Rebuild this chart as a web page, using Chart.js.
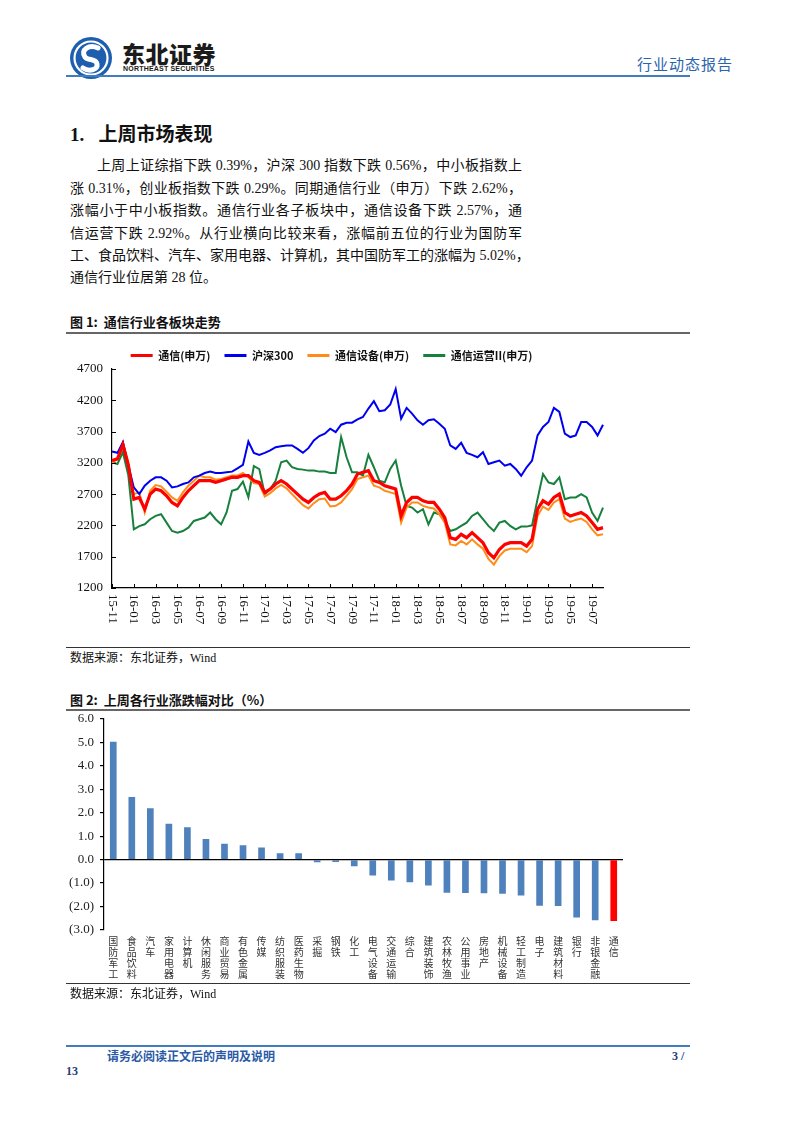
<!DOCTYPE html>
<html><head><meta charset="utf-8">
<script src="https://cdn.jsdelivr.net/npm/chart.js@4.4.1/dist/chart.umd.min.js"></script>
<style>
html,body{margin:0;padding:0;background:#fff;}
body{width:802px;height:1133px;position:relative;overflow:hidden;font-family:"Liberation Serif","Noto Sans CJK SC",serif;color:#111;}
.abs{position:absolute;}
.hl{position:absolute;height:0;}
.para div{position:absolute;left:70px;width:452px;height:22px;line-height:22px;font-size:14px;text-align:justify;text-align-last:justify;white-space:nowrap;}
.fig{position:absolute;left:70px;font-family:"Noto Sans CJK SC";font-weight:700;font-size:13px;line-height:16px;}
.src{position:absolute;left:70px;font-size:12px;line-height:14px;font-family:"Liberation Serif","Noto Sans CJK SC";}
</style></head>
<body>
<!-- header -->
<svg class="abs" style="left:69px;top:36px" width="44" height="44" viewBox="0 0 44 44">
  <circle cx="22" cy="22" r="21" fill="#1d5fae"/>
  <circle cx="22" cy="22" r="16.5" fill="none" stroke="#fff" stroke-width="2.2"/>
  <path d="M29 12 C20 8 11 14 16 21 C19 25 27 22 28 28 C29 34 20 36 14 32" fill="none" stroke="#fff" stroke-width="5" stroke-linecap="round"/>
</svg>
<div class="abs" style="left:122px;top:40px;font-family:'Noto Sans CJK SC';font-weight:900;font-size:23px;line-height:26px;color:#1b1b1b;letter-spacing:0.5px">东北证券</div>
<div class="abs" style="left:123px;top:65px;font-family:'Liberation Sans';font-weight:700;font-size:7px;line-height:8px;color:#1b1b1b;letter-spacing:0.2px">NORTHEAST SECURITIES</div>
<div class="abs" style="left:637px;top:54px;font-family:'Noto Sans CJK SC';font-size:15px;line-height:20px;color:#2a64ad;letter-spacing:1px">行业动态报告</div>
<div class="hl" style="left:66px;top:75px;width:624px;border-top:2px solid #3f7cc0"></div>

<div class="abs" style="left:70px;top:123px;font-family:'Liberation Serif','Noto Sans CJK SC';font-weight:700;font-size:19px;line-height:24px">1.&nbsp;&nbsp;&nbsp;上周市场表现</div>
<div class="para">
<div style="top:155px;left:97px;width:425px">上周上证综指下跌 0.39%，沪深 300 指数下跌 0.56%，中小板指数上</div>
<div style="top:178px">涨 0.31%，创业板指数下跌 0.29%。同期通信行业（申万）下跌 2.62%，</div>
<div style="top:200px">涨幅小于中小板指数。通信行业各子板块中，通信设备下跌 2.57%，通</div>
<div style="top:223px">信运营下跌 2.92%。从行业横向比较来看，涨幅前五位的行业为国防军</div>
<div style="top:245px">工、食品饮料、汽车、家用电器、计算机，其中国防军工的涨幅为 5.02%，</div>
<div style="top:267px;text-align-last:left">通信行业位居第 28 位。</div>
</div>

<div class="fig" style="top:314px">图 1:&nbsp;&nbsp;通信行业各板块走势</div>
<div class="hl" style="left:66px;top:332px;width:624px;border-top:2px solid #666"></div>
<canvas id="c1" class="abs" style="left:60px;top:336px" width="570" height="308"></canvas>
<div class="hl" style="left:66px;top:647px;width:624px;border-top:1px solid #333"></div>
<div class="src" style="top:651px">数据来源：东北证券，Wind</div>

<div class="fig" style="top:692px">图 2:&nbsp;&nbsp;上周各行业涨跌幅对比（%）</div>
<div class="hl" style="left:66px;top:709px;width:624px;border-top:2px solid #666"></div>
<canvas id="c2" class="abs" style="left:60px;top:705px" width="570" height="280"></canvas>
<div class="hl" style="left:66px;top:983px;width:624px;border-top:1px solid #333"></div>
<div class="src" style="top:987px">数据来源：东北证券，Wind</div>

<!-- footer -->
<div class="hl" style="left:66px;top:1045px;width:624px;border-top:2px solid #3f7cc0"></div>
<div class="abs" style="left:107px;top:1048px;font-family:'Noto Sans CJK SC';font-weight:700;font-size:12px;line-height:16px;color:#2a5aa6">请务必阅读正文后的声明及说明</div>
<div class="abs" style="left:672px;top:1048px;font-weight:700;font-size:12px;line-height:16px;color:#1f3d78">3 /</div>
<div class="abs" style="left:66px;top:1063px;font-weight:700;font-size:12px;line-height:16px;color:#1f3d78">13</div>

<script>
// ---------- Figure 1 data (half-monthly readings) ----------
const dates = ['15-11-01','15-11-16','15-12-01','15-12-16',
'16-01-01','16-01-16','16-02-01','16-02-16','16-03-01','16-03-16','16-04-01','16-04-16','16-05-01','16-05-16','16-06-01','16-06-16',
'16-07-01','16-07-16','16-08-01','16-08-16','16-09-01','16-09-16','16-10-01','16-10-16','16-11-01','16-11-16','16-12-01','16-12-16',
'17-01-01','17-01-16','17-02-01','17-02-16','17-03-01','17-03-16','17-04-01','17-04-16','17-05-01','17-05-16','17-06-01','17-06-16',
'17-07-01','17-07-16','17-08-01','17-08-16','17-09-01','17-09-16','17-10-01','17-10-16','17-11-01','17-11-16','17-12-01','17-12-16',
'18-01-01','18-01-16','18-02-01','18-02-16','18-03-01','18-03-16','18-04-01','18-04-16','18-05-01','18-05-16','18-06-01','18-06-16',
'18-07-01','18-07-16','18-08-01','18-08-16','18-09-01','18-09-16','18-10-01','18-10-16','18-11-01','18-11-16','18-12-01','18-12-16',
'19-01-01','19-01-16','19-02-01','19-02-16','19-03-01','19-03-16','19-04-01','19-04-16','19-05-01','19-05-16','19-06-01','19-06-16',
'19-07-01','19-07-16','19-08-01'];
const xTickLabels = ['15-11','16-01','16-03','16-05','16-07','16-09','16-11','17-01','17-03','17-05','17-07','17-09','17-11',
'18-01','18-03','18-05','18-07','18-09','18-11','19-01','19-03','19-05','19-07'];
const yTicks1 = [1200,1700,2200,2700,3200,3700,4200,4700];

const telecomSW = [3237,3264,3489,3156,2620,2647,2460,2701,2781,2754,2674,2567,2513,2647,2754,2835,
2915,2915,2915,2888,2915,2942,2969,2969,2996,2996,2915,2888,2728,2781,2862,2915,2862,2781,2701,2620,
2567,2647,2701,2728,2620,2620,2674,2754,2862,3022,3049,3076,2915,2888,2835,2808,2781,2352,2567,2647,
2647,2594,2567,2567,2460,2326,2004,1977,2058,2004,2084,2004,1924,1763,1682,1816,1897,1924,1924,1924,
1870,1977,2460,2594,2540,2647,2701,2406,2352,2379,2406,2352,2245,2138,2165];
const hs300 = [3381,3360,3531,3156,2808,2701,2835,2915,2969,2969,2915,2808,2824,2862,2888,2969,
2995,3038,3060,3038,3038,3049,3060,3113,3167,3540,3360,3328,3360,3398,3451,3467,3478,3478,3424,3360,
3435,3558,3628,3666,3746,3692,3810,3842,3842,3896,3934,4068,4185,4025,4041,4132,4378,3907,4078,3987,
3880,3810,3880,3896,3826,3746,3478,3424,3521,3360,3328,3290,3371,3183,3210,3237,3156,3183,3103,2995,
3129,3237,3639,3773,3853,4078,4014,3666,3612,3639,3853,3853,3773,3639,3810];
const telecomEquip = [3199,3264,3521,3210,2701,2728,2406,2754,2846,2824,2738,2647,2594,2728,2835,2915,
2996,2969,2969,2931,2942,2969,2996,2996,3038,2969,2878,2862,2663,2717,2792,2846,2792,2701,2610,2524,
2470,2556,2620,2631,2502,2513,2567,2674,2781,2942,2969,2996,2835,2808,2754,2728,2701,2245,2486,2567,
2567,2513,2486,2470,2379,2245,1897,1881,1951,1897,1977,1897,1827,1666,1575,1709,1800,1827,1827,1827,
1773,1870,2352,2502,2449,2567,2620,2309,2256,2288,2309,2256,2138,2042,2058];
const telecomOper = [3210,3183,3371,2996,2138,2190,2218,2299,2352,2379,2245,2111,2084,2111,2165,2272,
2299,2326,2406,2299,2218,2406,2754,2781,2900,2650,3150,3100,2700,2781,2915,3210,3237,3130,3103,3092,
3076,3076,3060,3060,3038,3038,3612,3290,3049,3049,2996,3328,3130,2915,2888,3103,3237,2835,2513,2486,
2406,2460,2218,2406,2379,2272,2111,2138,2192,2245,2352,2406,2299,2192,2111,2245,2272,2192,2138,2181,
2181,2202,2620,3022,2888,2862,2969,2620,2647,2647,2701,2647,2406,2272,2486];

// ---------- Figure 2 data ----------
const industries = ['国防军工','食品饮料','汽车','家用电器','计算机','休闲服务','商业贸易','有色金属','传媒','纺织服装',
'医药生物','采掘','钢铁','化工','电气设备','交通运输','综合','建筑装饰','农林牧渔','公用事业','房地产','机械设备',
'轻工制造','电子','建筑材料','银行','非银金融','通信'];
const weeklyChange = [5.02,2.67,2.19,1.53,1.38,0.88,0.68,0.61,0.52,0.27,0.27,-0.11,-0.10,-0.28,-0.68,-0.89,-0.96,
-1.10,-1.41,-1.42,-1.43,-1.45,-1.53,-1.97,-1.98,-2.47,-2.58,-2.62];
const yTicks2 = [-3,-2,-1,0,1,2,3,4,5,6];

function tickLabelOf(d){ const ym = d.slice(0,5); return (d.endsWith('-01') && xTickLabels.includes(ym)) ? ym : null; }

const axisDeco = {
  id:'axisDeco',
  afterDraw(chart){
    const ctx = chart.ctx, x = chart.scales.x, y = chart.scales.y;
    ctx.save();
    ctx.strokeStyle = '#000'; ctx.lineWidth = 1;
    ctx.beginPath();
    dates.forEach((d,i)=>{ if(tickLabelOf(d)){ const px = Math.round(x.getPixelForValue(i))+0.5; ctx.moveTo(px, x.top); ctx.lineTo(px, x.top-4); }});
    y.ticks.forEach(t=>{ const py = Math.round(y.getPixelForValue(t.value))+0.5; ctx.moveTo(y.right, py); ctx.lineTo(y.right+4, py); });
    ctx.stroke();
    ctx.fillStyle = '#111'; ctx.font = '13px "Liberation Serif"'; ctx.textAlign = 'left'; ctx.textBaseline = 'middle';
    dates.forEach((d,i)=>{ const lab = tickLabelOf(d); if(lab){ const px = x.getPixelForValue(i); ctx.save(); ctx.translate(px, x.top+6); ctx.rotate(Math.PI/2); ctx.fillText(lab,0,0); ctx.restore(); }});
    ctx.restore();
  }
};
const legendHeight = { id:'legendHeight', beforeInit(chart){ const lg = chart.legend; if(!lg) return; const f = lg.fit; lg.fit = function(){ f.call(this); this.height = 33; }; } };

new Chart(document.getElementById('c1'), {
  type:'line',
  data:{ labels: dates, datasets:[
    {label:'通信(申万)', data: telecomSW, borderColor:'#ff0000', backgroundColor:'#ff0000', borderWidth:3.2},
    {label:'沪深300', data: hs300, borderColor:'#0000f0', backgroundColor:'#0000f0', borderWidth:2},
    {label:'通信设备(申万)', data: telecomEquip, borderColor:'#ff8c1a', backgroundColor:'#ff8c1a', borderWidth:2},
    {label:'通信运营II(申万)', data: telecomOper, borderColor:'#17803d', backgroundColor:'#17803d', borderWidth:2}
  ]},
  options:{
    responsive:false, animation:false, devicePixelRatio:1,
    elements:{ point:{radius:0}, line:{tension:0} },
    layout:{ padding:{ top:0, right:27, left:0, bottom:0 } },
    plugins:{
      tooltip:{enabled:false},
      legend:{ display:true, position:'top', align:'center',
        labels:{ boxWidth:22, boxHeight:3, padding:14, color:'#111',
          font:{ family:'"Noto Sans CJK SC"', size:11, weight:'bold' },
          generateLabels(chart){ return Chart.defaults.plugins.legend.labels.generateLabels(chart).map(l=>Object.assign(l,{lineWidth:0, fillStyle:l.strokeStyle})); } } }
    },
    scales:{
      x:{ type:'category', grid:{display:false, drawTicks:false}, border:{display:true, color:'#000', width:1.2}, ticks:{display:false},
          afterFit(s){ s.height = 56; } },
      y:{ min:1200, max:4700, afterBuildTicks(s){ s.ticks = yTicks1.map(v=>({value:v})); },
          grid:{display:false, drawTicks:false}, border:{display:true, color:'#000', width:1.2},
          ticks:{ color:'#111', padding:9, font:{family:'"Liberation Serif"', size:13}, callback:(v)=>String(v) },
          afterFit(s){ s.width = 52; } }
    }
  },
  plugins:[axisDeco, legendHeight]
});

new Chart(document.getElementById('c2'), {
  type:'bar',
  data:{ labels: industries.map(s=>s.split('')), datasets:[{ data: weeklyChange,
    backgroundColor: industries.map(n=> n==='通信' ? '#ff0000' : '#4f81bd'),
    barPercentage:0.36, categoryPercentage:1 }]},
  options:{
    responsive:false, animation:false, devicePixelRatio:1,
    layout:{ padding:{ top:0, right:7, left:0, bottom:0 } },
    plugins:{ legend:{display:false}, tooltip:{enabled:false} },
    scales:{
      x:{ grid:{display:false, drawTicks:false}, border:{display:false},
          ticks:{ autoSkip:false, maxRotation:0, minRotation:0, padding:6, color:'#333',
                  font:{ family:'"Noto Sans CJK SC"', size:10, lineHeight:1.1 } },
          afterFit(s){ s.height = 55; } },
      y:{ min:-3, max:6, afterBuildTicks(s){ s.ticks = yTicks2.map(v=>({value:v})); },
          grid:{ color:(c)=> (c.tick && c.tick.value===0) ? '#000' : 'rgba(0,0,0,0)', tickColor:'#000', tickLength:4, lineWidth:1.2 },
          border:{ display:true, color:'#000', width:1.2 },
          ticks:{ color:'#222', padding:6, font:{family:'"Liberation Serif"', size:13},
                  callback:(v)=> v<0 ? '('+Math.abs(v).toFixed(1)+')' : v.toFixed(1) },
          afterFit(s){ s.width = 44; } }
    }
  }
});
</script>
</body></html>
